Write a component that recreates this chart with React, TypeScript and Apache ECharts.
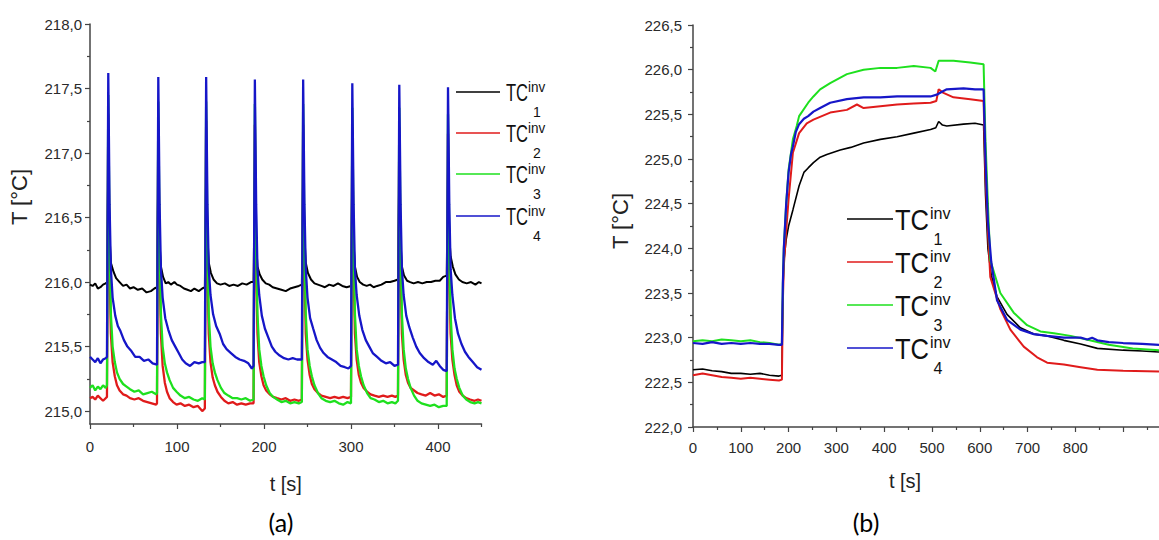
import { useEffect, useRef } from "react";
import * as echarts from "echarts";

// ---------- axis ticks ----------
const aXTicks = [0, 100, 200, 300, 400];
const aXMinor = [50, 150, 250, 350, 450];
const aYTicks = [215, 215.5, 216, 216.5, 217, 217.5, 218];
const aYMinor = [215.25, 215.75, 216.25, 216.75, 217.25, 217.75];
const bXTicks = [0, 100, 200, 300, 400, 500, 600, 700, 800, 900];
const bXLabels = [0, 100, 200, 300, 400, 500, 600, 700, 800];
const bXMinor = [50, 150, 250, 350, 450, 550, 650, 750, 850, 950];
const bYTicks = [222, 222.5, 223, 223.5, 224, 224.5, 225, 225.5, 226, 226.5];
const bYMinor = [222.25, 222.75, 223.25, 223.75, 224.25, 224.75, 225.25, 225.75, 226.25];

const seriesNames = ["TC1 inv", "TC2 inv", "TC3 inv", "TC4 inv"];
const legendSubs = ["1", "2", "3", "4"];
const colors = ["#000000", "#e01b1b", "#1ee01e", "#1616c8"];

// ---------- panel (a): t [s], T [°C] ----------
const aBlack = [
  [0, 215.98], [3, 215.97], [6, 215.99], [9, 215.95], [12, 215.96], [15, 215.98], [18, 215.99], [19.5, 216.0],
  [21, 216.9], [22.5, 216.35], [24, 216.15], [27, 216.08], [30, 216.03], [34, 216.0], [38, 215.97], [42, 215.98], [46, 215.95], [50, 215.96], [55, 215.94], [60, 215.95], [65, 215.92], [70, 215.93], [74, 215.95], [77, 215.96],
  [78.5, 216.85], [80, 216.3], [81.5, 216.12], [84, 216.04], [87, 215.99], [90, 216.0], [93, 215.98], [97, 216.0], [100, 215.98], [104, 215.97], [108, 215.95], [112, 215.94], [116, 215.93], [120, 215.95], [125, 215.93], [129, 215.95], [132, 215.96],
  [133.5, 216.85], [135, 216.35], [136.5, 216.15], [139, 216.07], [142, 216.02], [146, 215.99], [150, 215.98], [155, 215.99], [160, 215.97], [165, 215.98], [170, 215.97], [175, 215.99], [180, 215.98], [185, 216.0], [188, 216.0],
  [189.5, 216.85], [191, 216.3], [192.5, 216.12], [195, 216.06], [198, 216.02], [202, 215.99], [206, 215.98], [210, 215.96], [215, 215.95], [220, 215.94], [225, 215.93], [230, 215.95], [235, 215.96], [240, 215.97], [243.5, 215.98],
  [245, 216.85], [246.5, 216.35], [248, 216.15], [250.5, 216.07], [254, 216.02], [258, 215.99], [262, 215.98], [266, 215.97], [270, 215.96], [275, 215.98], [280, 215.97], [285, 215.99], [290, 215.97], [295, 215.96], [300, 215.97],
  [301.5, 216.85], [303, 216.3], [304.5, 216.12], [307, 216.04], [310, 216.0], [314, 215.98], [318, 215.97], [322, 215.98], [326, 215.96], [330, 215.97], [335, 215.98], [340, 216.0], [345, 216.0], [350, 216.01], [354, 216.02],
  [355.5, 216.85], [357, 216.3], [358.5, 216.12], [361, 216.05], [364.5, 216.01], [368, 216.0], [372, 215.99], [377, 216.0], [382, 215.99], [387, 216.0], [392, 216.0], [397, 216.01], [402, 216.01], [406, 216.04], [410, 216.05],
  [411.5, 216.85], [413, 216.35], [414.5, 216.2], [417, 216.12], [420, 216.06], [424, 216.02], [428, 216.0], [433, 215.99], [438, 216.0], [443, 215.98], [447, 216.0], [450, 215.99],
];
const aRed = [
  [0, 215.1], [3, 215.11], [6, 215.09], [9, 215.12], [12, 215.1], [15, 215.08], [18, 215.1], [19.5, 215.11],
  [21, 217.3], [22.5, 216.1], [24, 215.6], [26, 215.38], [28.5, 215.27], [31, 215.2], [34, 215.16], [38, 215.13], [42, 215.12], [46, 215.1], [51, 215.09], [56, 215.1], [61, 215.08], [66, 215.07], [71, 215.06], [76, 215.05], [77, 215.06],
  [78.5, 217.25], [80, 216.1], [81.5, 215.6], [83.5, 215.35], [86, 215.22], [88.5, 215.15], [91.5, 215.1], [95.5, 215.07], [99.5, 215.05], [104, 215.06], [109, 215.04], [114, 215.05], [119, 215.03], [124, 215.04], [129, 215.0], [132, 215.02],
  [133.5, 217.25], [135, 216.1], [136.5, 215.6], [138.5, 215.38], [141, 215.26], [143.5, 215.2], [146.5, 215.15], [150.5, 215.11], [154.5, 215.08], [159, 215.06], [164, 215.07], [169, 215.05], [174, 215.06], [179, 215.05], [184, 215.06], [188, 215.06],
  [189.5, 217.22], [191, 216.1], [192.5, 215.6], [194.5, 215.38], [197, 215.27], [199.5, 215.2], [202.5, 215.16], [206.5, 215.13], [210.5, 215.11], [215, 215.1], [220, 215.09], [225, 215.1], [230, 215.08], [235, 215.09], [240, 215.08], [243.5, 215.09],
  [245, 217.22], [246.5, 216.1], [248, 215.6], [250, 215.4], [252.5, 215.28], [255, 215.21], [258, 215.17], [262, 215.14], [266, 215.12], [271, 215.11], [276, 215.1], [281, 215.11], [286, 215.1], [291, 215.11], [296, 215.1], [300, 215.11],
  [301.5, 217.2], [303, 216.1], [304.5, 215.6], [306.5, 215.4], [309, 215.28], [311.5, 215.22], [314.5, 215.18], [318.5, 215.15], [322.5, 215.13], [327, 215.12], [332, 215.11], [337, 215.12], [342, 215.11], [347, 215.12], [351, 215.11], [354, 215.12],
  [355.5, 217.2], [357, 216.1], [358.5, 215.6], [360.5, 215.4], [363, 215.28], [365.5, 215.22], [368.5, 215.18], [372.5, 215.16], [376.5, 215.14], [381, 215.13], [386, 215.12], [391, 215.14], [396, 215.12], [401, 215.13], [406, 215.11], [410, 215.12],
  [411.5, 217.15], [413, 216.1], [414.5, 215.6], [416.5, 215.4], [419, 215.28], [421.5, 215.2], [424.5, 215.15], [428.5, 215.12], [432.5, 215.1], [437, 215.09], [442, 215.08], [446, 215.09], [450, 215.08],
];
const aGreen = [
  [0, 215.18], [3, 215.2], [6, 215.16], [9, 215.19], [12, 215.17], [15, 215.2], [18, 215.18], [19.5, 215.2],
  [21, 217.45], [22.5, 216.3], [24, 215.75], [26, 215.5], [28.5, 215.38], [31, 215.3], [34, 215.25], [38, 215.21], [42, 215.19], [46, 215.17], [51, 215.15], [56, 215.16], [61, 215.13], [66, 215.14], [71, 215.15], [76, 215.13], [77, 215.14],
  [78.5, 217.4], [80, 216.3], [81.5, 215.75], [83.5, 215.5], [86, 215.37], [88.5, 215.3], [91.5, 215.24], [95.5, 215.18], [99.5, 215.15], [104, 215.12], [109, 215.1], [114, 215.11], [119, 215.09], [124, 215.08], [129, 215.1], [132, 215.09],
  [133.5, 217.4], [135, 216.3], [136.5, 215.75], [138.5, 215.5], [141, 215.37], [143.5, 215.3], [146.5, 215.24], [150.5, 215.18], [154.5, 215.14], [159, 215.12], [164, 215.1], [169, 215.1], [174, 215.09], [179, 215.1], [184, 215.08], [188, 215.09],
  [189.5, 217.38], [191, 216.3], [192.5, 215.75], [194.5, 215.48], [197, 215.35], [199.5, 215.27], [202.5, 215.2], [206.5, 215.14], [210.5, 215.11], [215, 215.09], [220, 215.07], [225, 215.08], [230, 215.06], [235, 215.07], [240, 215.06], [243.5, 215.07],
  [245, 217.38], [246.5, 216.3], [248, 215.75], [250, 215.48], [252.5, 215.35], [255, 215.27], [258, 215.2], [262, 215.14], [266, 215.1], [271, 215.08], [276, 215.07], [281, 215.08], [286, 215.06], [291, 215.05], [296, 215.07], [300, 215.06],
  [301.5, 217.35], [303, 216.3], [304.5, 215.75], [306.5, 215.48], [309, 215.35], [311.5, 215.27], [314.5, 215.2], [318.5, 215.14], [322.5, 215.1], [327, 215.09], [332, 215.07], [337, 215.08], [342, 215.06], [347, 215.07], [351, 215.06], [354, 215.08],
  [355.5, 217.35], [357, 216.3], [358.5, 215.75], [360.5, 215.48], [363, 215.33], [365.5, 215.25], [368.5, 215.18], [372.5, 215.12], [376.5, 215.08], [381, 215.06], [386, 215.05], [391, 215.04], [396, 215.05], [401, 215.03], [406, 215.04], [410, 215.04],
  [411.5, 217.3], [413, 216.3], [414.5, 215.75], [416.5, 215.48], [419, 215.33], [421.5, 215.25], [424.5, 215.18], [428.5, 215.12], [432.5, 215.09], [437, 215.07], [442, 215.06], [446, 215.07], [450, 215.06],
];
const aBlue = [
  [0, 215.42], [3, 215.4], [6, 215.38], [9, 215.41], [12, 215.37], [15, 215.4], [18, 215.41], [19.5, 215.42],
  [21, 217.62], [22.5, 216.6], [24, 216.1], [26, 215.88], [29, 215.74], [32, 215.66], [35, 215.62], [39, 215.55], [43, 215.5], [47, 215.47], [52, 215.42], [57, 215.42], [62, 215.39], [67, 215.4], [72, 215.37], [77, 215.36],
  [78.5, 217.59], [80, 216.6], [81.5, 216.1], [83.5, 215.88], [86.5, 215.72], [90, 215.63], [94, 215.55], [98, 215.5], [102, 215.45], [106, 215.4], [110, 215.37], [115, 215.35], [120, 215.38], [125, 215.37], [129, 215.38], [132, 215.38],
  [133.5, 217.59], [135, 216.6], [136.5, 216.1], [138.5, 215.9], [141.5, 215.75], [145, 215.66], [149, 215.6], [153, 215.52], [157, 215.48], [162, 215.45], [167, 215.42], [172, 215.4], [177, 215.39], [182, 215.37], [186, 215.33], [188, 215.35],
  [189.5, 217.57], [191, 216.6], [192.5, 216.1], [194.5, 215.9], [197.5, 215.74], [201, 215.64], [205, 215.57], [209, 215.5], [213, 215.46], [218, 215.43], [223, 215.41], [228, 215.4], [233, 215.41], [238, 215.4], [243.5, 215.4],
  [245, 217.57], [246.5, 216.6], [248, 216.1], [250, 215.88], [253, 215.72], [256.5, 215.64], [260.5, 215.55], [264.5, 215.49], [268.5, 215.45], [273, 215.42], [278, 215.4], [283, 215.38], [288, 215.35], [293, 215.34], [297, 215.33], [300, 215.35],
  [301.5, 217.54], [303, 216.6], [304.5, 216.1], [306.5, 215.9], [309.5, 215.74], [313, 215.63], [317, 215.55], [321, 215.5], [325, 215.45], [330, 215.42], [335, 215.39], [340, 215.37], [345, 215.38], [350, 215.35], [354, 215.36],
  [355.5, 217.53], [357, 216.6], [358.5, 216.1], [360.5, 215.9], [363.5, 215.74], [367, 215.65], [371, 215.57], [375, 215.5], [379, 215.45], [384, 215.41], [389, 215.38], [394, 215.36], [398, 215.39], [402, 215.35], [406, 215.32], [410, 215.31],
  [411.5, 217.51], [413, 216.6], [414.5, 216.1], [416.5, 215.9], [419.5, 215.72], [423, 215.6], [427, 215.52], [431, 215.46], [435, 215.42], [440, 215.38], [445, 215.34], [450, 215.32],
];

// ---------- panel (b): t [s], T [°C] ----------
const bBlack = [
  [0, 222.64], [20, 222.65], [40, 222.63], [60, 222.62], [80, 222.6], [100, 222.6], [120, 222.59], [140, 222.6], [160, 222.58], [180, 222.57], [186, 222.58],
  [188, 223.5], [190, 223.85], [195, 224.1], [200, 224.25], [209, 224.43], [222, 224.7], [232, 224.85], [241, 224.9], [252, 224.96], [266, 225.02], [280, 225.05], [308, 225.1], [330, 225.13], [357, 225.18], [392, 225.22], [427, 225.25], [462, 225.29], [497, 225.33], [508, 225.35], [514, 225.42], [522, 225.38], [531, 225.37], [566, 225.39], [590, 225.4], [608, 225.38],
  [612, 224.6], [617, 224.0], [624, 223.7], [636, 223.46], [657, 223.26], [685, 223.11], [713, 223.04], [741, 223.02], [776, 222.97], [811, 222.93], [846, 222.88], [900, 222.86], [940, 222.85], [975, 222.84],
];
const bRed = [
  [0, 222.58], [20, 222.6], [40, 222.58], [60, 222.56], [80, 222.55], [100, 222.54], [120, 222.55], [140, 222.54], [160, 222.53], [180, 222.52], [186, 222.53],
  [188, 223.4], [190, 223.8], [195, 224.2], [200, 224.55], [209, 225.07], [222, 225.29], [238, 225.4], [252, 225.44], [287, 225.52], [322, 225.55], [343, 225.61], [357, 225.57], [392, 225.59], [427, 225.61], [462, 225.62], [497, 225.63], [509, 225.65], [514, 225.78], [524, 225.74], [545, 225.69], [580, 225.67], [608, 225.65],
  [612, 224.8], [617, 224.2], [622, 223.68], [643, 223.32], [664, 223.09], [692, 222.9], [720, 222.78], [741, 222.72], [776, 222.7], [811, 222.67], [846, 222.64], [900, 222.63], [975, 222.62],
];
const bGreen = [
  [0, 222.96], [20, 222.97], [40, 222.96], [60, 222.98], [80, 222.97], [100, 222.96], [120, 222.97], [140, 222.95], [160, 222.94], [180, 222.92], [186, 222.93],
  [188, 223.6], [190, 224.0], [195, 224.5], [200, 224.88], [209, 225.22], [217, 225.37], [222, 225.48], [241, 225.63], [252, 225.7], [266, 225.78], [287, 225.85], [322, 225.95], [357, 226.0], [392, 226.02], [427, 226.02], [462, 226.04], [497, 226.02], [507, 225.98], [514, 226.1], [545, 226.1], [580, 226.08], [608, 226.06],
  [612, 225.2], [617, 224.5], [622, 223.87], [643, 223.5], [671, 223.28], [699, 223.14], [727, 223.07], [755, 223.05], [790, 223.02], [830, 222.97], [870, 222.92], [920, 222.88], [975, 222.86],
];
const bBlue = [
  [0, 222.94], [20, 222.93], [40, 222.95], [60, 222.93], [80, 222.94], [100, 222.93], [120, 222.94], [140, 222.93], [160, 222.93], [180, 222.92], [186, 222.92],
  [188, 223.6], [190, 224.0], [195, 224.5], [200, 224.85], [205, 225.05], [209, 225.14], [215, 225.3], [222, 225.39], [232, 225.45], [241, 225.48], [252, 225.53], [266, 225.57], [287, 225.63], [322, 225.67], [357, 225.69], [392, 225.69], [427, 225.7], [462, 225.7], [497, 225.7], [510, 225.72], [520, 225.75], [531, 225.78], [566, 225.79], [590, 225.78], [608, 225.78],
  [612, 225.0], [617, 224.3], [624, 223.85], [636, 223.42], [657, 223.2], [685, 223.09], [713, 223.04], [741, 223.02], [776, 223.0], [811, 223.0], [825, 222.98], [835, 223.0], [846, 222.97], [870, 222.95], [900, 222.94], [940, 222.93], [975, 222.92],
];

const aData = [aBlack, aRed, aGreen, aBlue];
const bData = [bBlack, bRed, bGreen, bBlue];
const aWidths = [2.0, 2.3, 2.3, 2.3];
const bWidths = [1.6, 2.0, 2.0, 2.2];

const FONT = "'Liberation Sans', Arial, sans-serif";
const AXIS_COLOR = "#444";
const LABEL_COLOR = "#2a2a2a";
const fmt = (v: number) => v.toFixed(1).replace(".", ",");

function legendGraphics(cfg: any) {
  const els: any[] = [];
  cfg.ys.forEach((y: number, i: number) => {
    els.push({
      type: "line",
      shape: { x1: cfg.x1, y1: y, x2: cfg.x2, y2: y },
      style: { stroke: colors[i], lineWidth: 1.6 },
    });
    els.push({
      type: "text", x: cfg.tcX, y: y + cfg.tcDy, scaleX: cfg.tcScale,
      style: { text: "TC", fontSize: cfg.tcFont, fontFamily: FONT, fill: "#111", align: "left", verticalAlign: "middle" },
    });
    els.push({
      type: "text", x: cfg.supX, y: y + cfg.supDy, scaleX: cfg.supScale,
      style: { text: "inv", fontSize: cfg.supFont, fontFamily: FONT, fill: "#111", align: "left", verticalAlign: "middle" },
    });
    els.push({
      type: "text", x: cfg.subX, y: y + cfg.subDy,
      style: { text: legendSubs[i], fontSize: cfg.subFont, fontFamily: FONT, fill: "#111", align: "center", verticalAlign: "middle" },
    });
  });
  return els;
}

function mainX(gridIndex: number, max: number, ticks: number[], labels: number[], margin: number, nameGap: number, namePad: number[]) {
  return {
    gridIndex, type: "value", min: 0, max, position: "bottom",
    name: "t [s]", nameLocation: "middle", nameGap,
    nameTextStyle: { fontFamily: FONT, fontSize: 20, color: "#222", padding: namePad },
    axisLine: { show: true, onZero: false, lineStyle: { color: AXIS_COLOR, width: 1.5 } },
    axisTick: { show: true, customValues: ticks, length: 5, lineStyle: { color: AXIS_COLOR, width: 1.2 } },
    axisLabel: { show: true, customValues: labels, margin, fontFamily: FONT, fontSize: 15, color: LABEL_COLOR, formatter: (v: number) => String(v) },
    splitLine: { show: false },
  };
}
function minorX(gridIndex: number, max: number, ticks: number[]) {
  return {
    gridIndex, type: "value", min: 0, max, position: "bottom",
    axisLine: { show: false }, axisLabel: { show: false }, splitLine: { show: false },
    axisTick: { show: true, customValues: ticks, length: 3, lineStyle: { color: AXIS_COLOR, width: 1.2 } },
  };
}
function mainY(gridIndex: number, min: number, max: number, ticks: number[], margin: number, nameGap: number, nameSize: number, namePad: number[]) {
  return {
    gridIndex, type: "value", min, max, position: "left",
    name: "T [°C]", nameLocation: "middle", nameGap,
    nameTextStyle: { fontFamily: FONT, fontSize: nameSize, color: "#222", padding: namePad },
    axisLine: { show: true, onZero: false, lineStyle: { color: AXIS_COLOR, width: 1.5 } },
    axisTick: { show: true, customValues: ticks, length: 5, lineStyle: { color: AXIS_COLOR, width: 1.2 } },
    axisLabel: { show: true, customValues: ticks, margin, fontFamily: FONT, fontSize: 15, color: LABEL_COLOR, formatter: fmt },
    splitLine: { show: false },
  };
}
function minorY(gridIndex: number, min: number, max: number, ticks: number[]) {
  return {
    gridIndex, type: "value", min, max, position: "left",
    axisLine: { show: false }, axisLabel: { show: false }, splitLine: { show: false },
    axisTick: { show: true, customValues: ticks, length: 3, lineStyle: { color: AXIS_COLOR, width: 1.2 } },
  };
}

export default function App() {
  const ref = useRef<HTMLDivElement>(null);
  useEffect(() => {
    document.body.style.margin = "0";
    if (!ref.current) return;
    const chart = echarts.init(ref.current, null, { renderer: "svg" });
    const series: any[] = [];
    aData.forEach((d, i) => {
      series.push({
        type: "line", name: seriesNames[i], xAxisIndex: 0, yAxisIndex: 0, data: d,
        showSymbol: false, lineStyle: { color: colors[i], width: aWidths[i] }, itemStyle: { color: colors[i] },
      });
    });
    bData.forEach((d, i) => {
      series.push({
        type: "line", name: seriesNames[i], xAxisIndex: 2, yAxisIndex: 2, data: d,
        showSymbol: false, lineStyle: { color: colors[i], width: bWidths[i] }, itemStyle: { color: colors[i] },
      });
    });
    chart.setOption({
      animation: false,
      backgroundColor: "#ffffff",
      grid: [
        { left: 90, top: 24, width: 391.5, height: 400 },
        { left: 693, top: 25, width: 466, height: 402 },
      ],
      xAxis: [
        mainX(0, 450, aXTicks, aXTicks, 15, 50, [0, 0, 0, 0]),
        minorX(0, 450, aXMinor),
        mainX(1, 975, bXTicks, bXLabels, 13, 44, [0, 42, 0, 0]),
        minorX(1, 975, bXMinor),
      ],
      yAxis: [
        mainY(0, 214.9, 218, aYTicks, 8, 60, 22, [0, 0, 0, 54]),
        minorY(0, 214.9, 218, aYMinor),
        mainY(1, 222, 226.5, bYTicks, 11, 62, 22, [0, 0, 0, 10]),
        minorY(1, 222, 226.5, bYMinor),
      ],
      series,
      graphic: [
        ...legendGraphics({
          ys: [92, 133, 174, 216], x1: 456, x2: 500,
          tcX: 506, tcDy: 1, tcFont: 23, tcScale: 0.72,
          supX: 528, supDy: -5, supFont: 15, supScale: 0.9,
          subX: 537, subDy: 20, subFont: 14,
        }),
        ...legendGraphics({
          ys: [219, 262, 305, 348], x1: 847, x2: 893,
          tcX: 895, tcDy: 1, tcFont: 29, tcScale: 0.88,
          supX: 930, supDy: -6, supFont: 17, supScale: 0.95,
          subX: 938, subDy: 20, subFont: 16,
        }),
        { type: "text", x: 281, y: 522, style: { text: "(a)", fontSize: 25, fontFamily: "Lato, 'Open Sans', sans-serif", fill: "#000", align: "center", verticalAlign: "middle" } },
        { type: "text", x: 866, y: 522, style: { text: "(b)", fontSize: 25, fontFamily: "Lato, 'Open Sans', sans-serif", fill: "#000", align: "center", verticalAlign: "middle" } },
      ],
    });
    return () => chart.dispose();
  }, []);
  return <div ref={ref} style={{ width: 1159, height: 540, background: "#fff" }} />;
}
